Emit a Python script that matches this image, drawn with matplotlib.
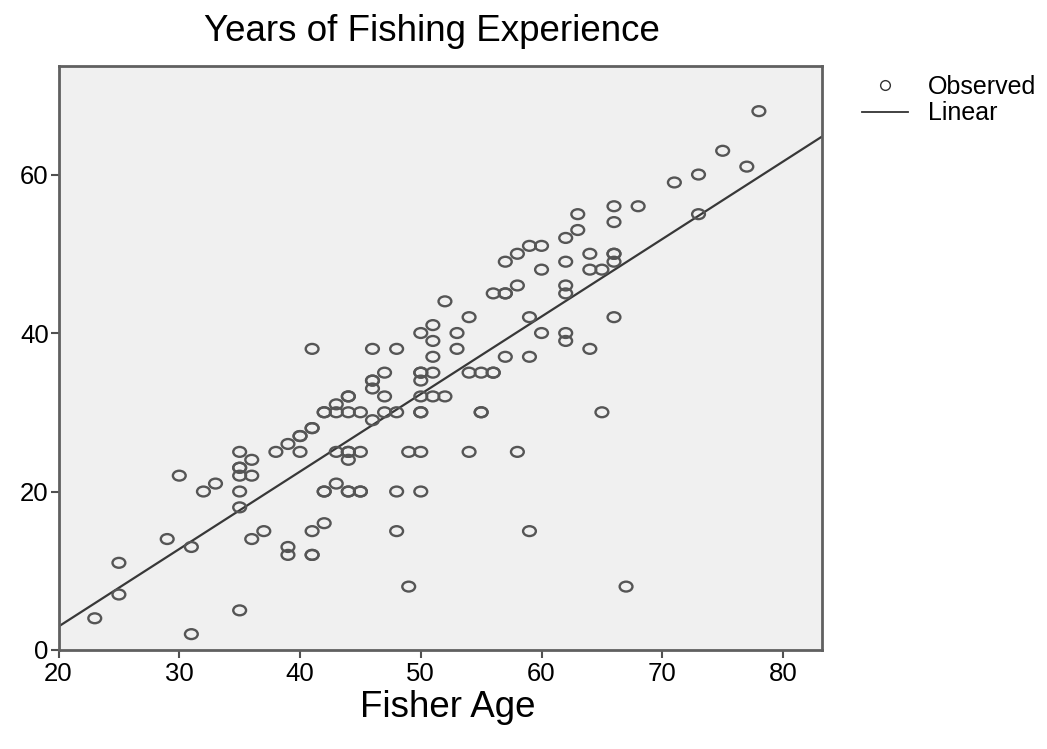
import numpy as np
import matplotlib.pyplot as plt
from matplotlib.path import Path
from matplotlib.transforms import Affine2D
from matplotlib.lines import Line2D

plt.rcParams['font.family'] = ['Liberation Sans', 'DejaVu Sans']

# fisher age (x) and years of fishing experience (y)
age = [23, 25, 25, 29, 30, 31, 31, 32, 33,
       35, 35, 35, 35, 35, 35, 35,
       36, 36, 36, 37, 38, 39, 39, 39, 40, 40, 40,
       41, 41, 41, 41, 41, 41,
       42, 42, 42, 42, 42,
       43, 43, 43, 43,
       44, 44, 44, 44, 44, 44, 44, 44,
       45, 45, 45, 45,
       46, 46, 46, 46, 46,
       47, 47, 47,
       48, 48, 48, 48,
       49, 49,
       50, 50, 50, 50, 50, 50, 50, 50, 50,
       51, 51, 51, 51, 51,
       52, 52, 53, 53, 54, 54, 54, 55, 55, 55, 56, 56, 56,
       57, 57, 57, 57, 58, 58, 58, 59, 59, 59, 59, 60, 60, 60,
       62, 62, 62, 62, 62, 62, 63, 63, 64, 64, 64, 65, 65,
       66, 66, 66, 66, 66, 66, 67, 68, 71, 73, 73, 75, 77, 78]
experience = [4, 11, 7, 14, 22, 13, 2, 20, 21,
              25, 23, 23, 22, 20, 18, 5,
              24, 22, 14, 15, 25, 26, 13, 12, 27, 27, 25,
              38, 28, 28, 15, 12, 12,
              30, 30, 20, 20, 16,
              31, 30, 25, 21,
              32, 32, 30, 25, 25, 24, 20, 20,
              30, 25, 20, 20,
              38, 34, 34, 33, 29,
              35, 32, 30,
              38, 30, 20, 15,
              25, 8,
              40, 35, 35, 34, 32, 30, 30, 25, 20,
              41, 39, 37, 35, 32,
              44, 32, 40, 38, 42, 35, 25, 35, 30, 30, 45, 35, 35,
              49, 45, 45, 37, 50, 46, 25, 51, 42, 37, 15, 51, 48, 40,
              52, 49, 46, 45, 40, 39, 55, 53, 50, 48, 38, 48, 30,
              56, 54, 50, 50, 49, 42, 8, 56, 59, 60, 55, 63, 61, 68]

# linear fit line as drawn in the chart
fit_intercept = -16.6
fit_slope = 0.978

x_lim = (20, 83.2)
y_lim = (0, 73.7)

fig = plt.figure(figsize=(10.47, 7.49), dpi=100)
ax = fig.add_axes([0.0559, 0.1322, 0.7289, 0.7797])
ax.set_facecolor('#f0f0f0')

# slightly wide ellipse marker like the original
ell = Path.unit_circle().transformed(Affine2D().scale(1.3, 1.0))
ax.scatter(age, experience, marker=ell, s=85, facecolors='none',
           edgecolors='#555555', linewidths=1.7, zorder=3)

xs = np.array(x_lim)
ax.plot(xs, fit_intercept + fit_slope * xs, color='#383838', lw=1.6, zorder=2)

ax.set_xlim(*x_lim)
ax.set_ylim(*y_lim)
ax.set_xticks([20, 30, 40, 50, 60, 70, 80])
ax.set_yticks([0, 20, 40, 60])
ax.tick_params(direction='out', length=6, width=1.5, color='#505050',
               labelsize=18.5, pad=3)
ax.tick_params(axis='y', pad=1)
for s in ax.spines.values():
    s.set_color('#606060')
    s.set_linewidth(2)

fig.text(0.413, 0.958, 'Years of Fishing Experience', ha='center', va='center',
         fontsize=26.5)
fig.text(0.428, 0.055, 'Fisher Age', ha='center', va='center', fontsize=26.5)

handles = [Line2D([], [], ls='none', marker='o', markersize=7, mfc='none',
                  mec='#333333', mew=1.0),
           Line2D([], [], color='#333333', lw=1.3)]
fig.legend(handles, ['Observed', 'Linear'], loc='upper left',
           bbox_to_anchor=(0.8233, 0.9), frameon=False, fontsize=18,
           handlelength=1.85, handletextpad=0.8, labelspacing=0.1,
           borderpad=0, borderaxespad=0)

fig.savefig('out.png', dpi=100)
